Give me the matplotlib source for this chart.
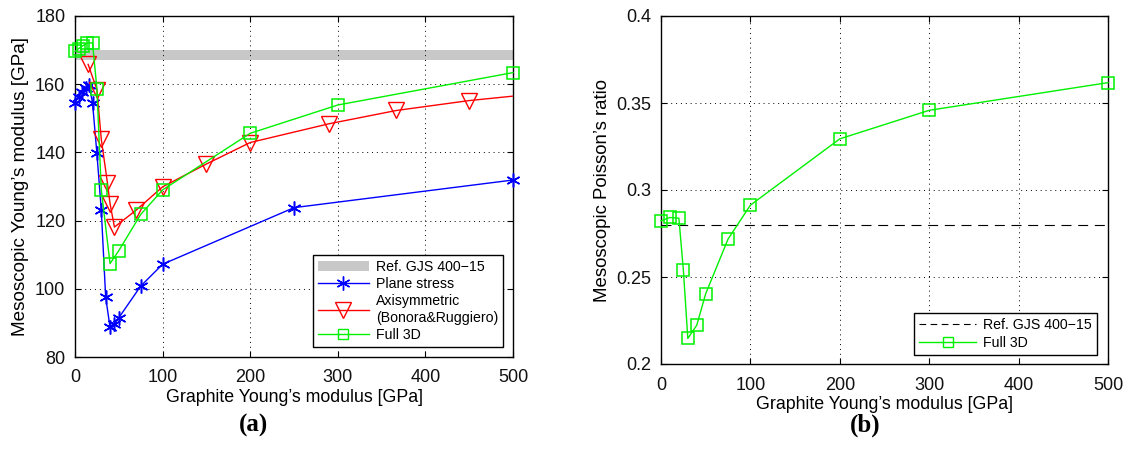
import matplotlib
matplotlib.use("Agg")
import matplotlib.pyplot as plt
from matplotlib.patches import Patch
from matplotlib.lines import Line2D

# (a) mesoscopic Young's modulus [GPa] vs graphite Young's modulus [GPa]
ref_E_band = (167.0, 170.0)

ps_x = [0, 4, 8, 12, 16, 20, 25, 30, 35, 40, 45, 50, 75, 100, 250, 500]
ps_y = [154.6, 156.2, 157.6, 159.0, 159.8, 154.6, 139.7, 123.1, 97.6, 88.7, 89.8, 91.5, 100.8, 107.2, 123.8, 131.9]

axi_x = [15, 25, 30, 37, 40, 45, 70, 100, 150, 200, 290, 367, 450, 500]
axi_y = [165.8, 158.4, 143.9, 131.1, 125.0, 118.1, 123.1, 129.9, 136.6, 142.9, 148.4, 152.3, 155.2, 156.5]

f3d_x = [0, 4, 9, 14, 20, 25, 30, 40, 50, 75, 100, 200, 300, 500]
f3d_y = [169.6, 170.4, 171.3, 172.1, 172.1, 158.7, 129.0, 107.4, 111.2, 121.8, 129.0, 145.6, 153.9, 163.4]

# (b) mesoscopic Poisson's ratio
ref_nu = 0.28
nu_x = [0, 10, 20, 25, 30, 40, 50, 75, 100, 200, 300, 500]
nu_y = [0.2823, 0.2842, 0.2838, 0.2541, 0.2147, 0.2223, 0.2404, 0.2718, 0.2913, 0.3294, 0.3458, 0.3617]

plt.rcParams["font.family"] = "Liberation Sans"
plt.rcParams["axes.linewidth"] = 1.0

BLUE, RED, GREEN = "#0000ff", "#ff0000", "#00f000"
STAR = (6, 2, 0)  # matlab-like asterisk

fig = plt.figure(figsize=(11.27, 4.66), dpi=100)
W, H = 1127, 466
axA = fig.add_axes([75 / W, 1 - 357 / H, 438 / W, 341 / H])
axB = fig.add_axes([661 / W, 1 - 364 / H, 447 / W, 348 / H])


def style(ax):
    ax.grid(True, ls=(0, (1, 4)), color="black", lw=0.7)
    ax.tick_params(direction="in", length=4, labelsize=13, pad=7, top=True, right=True)
    ax.tick_params(axis="x", pad=9)
    for lab in ax.get_xticklabels() + ax.get_yticklabels():
        lab.set_color("#111111")


# ---- (a)
axA.axhspan(ref_E_band[0], ref_E_band[1], color="#c8c8c8", lw=0, zorder=1)
axA.plot(ps_x, ps_y, color=BLUE, lw=1.0, marker=STAR, ms=10, mew=1.1, zorder=3, clip_on=False)
axA.plot(axi_x[:-1], axi_y[:-1], ls="none", color=RED, marker="v", ms=11, mfc="none", mew=1.0, zorder=3)
axA.plot(axi_x, axi_y, color=RED, lw=1.0, zorder=3)
axA.plot(f3d_x, f3d_y, color=GREEN, lw=1.0, marker="s", ms=8.5, mfc="none", mew=1.1, zorder=4, clip_on=False)
axA.set_xlim(0, 500)
axA.set_ylim(80, 180)
axA.set_xticks(range(0, 501, 100))
axA.set_yticks(range(80, 181, 20))
axA.set_xlabel("Graphite Young\u2019s modulus [GPa]", fontsize=12.8, labelpad=2)
axA.set_ylabel("Mesoscopic Young\u2019s modulus [GPa]", fontsize=13.6, labelpad=4)
style(axA)
hA = [Patch(facecolor="#c8c8c8", edgecolor="none"),
      Line2D([], [], color=BLUE, lw=1.0, marker=STAR, ms=10),
      Line2D([], [], color=RED, lw=1.0, marker="v", ms=11, mfc="none"),
      Line2D([], [], color=GREEN, lw=1.0, marker="s", ms=7, mfc="none")]
legA = axA.legend(hA, ["Ref. GJS 400\u221215", "Plane stress",
                       "Axisymmetric\n(Bonora&Ruggiero)", "Full 3D"],
                  loc="lower right", bbox_to_anchor=(0.977, 0.03), borderaxespad=0,
                  fontsize=10.2, frameon=True, fancybox=False, framealpha=1,
                  edgecolor="black", handlelength=3.6, handletextpad=0.5,
                  borderpad=0.35, labelspacing=0.22)
legA.get_frame().set_linewidth(1.0)

# ---- (b)
axB.axhline(ref_nu, color="black", lw=0.8, dashes=(9, 6), zorder=2)
axB.plot(nu_x, nu_y, color=GREEN, lw=1.0, marker="s", ms=8.5, mfc="none", mew=1.1, zorder=3, clip_on=False)
axB.set_xlim(0, 500)
axB.set_ylim(0.2, 0.4)
axB.set_xticks(range(0, 501, 100))
axB.set_yticks([0.2, 0.25, 0.3, 0.35, 0.4])
axB.set_yticklabels(["0.2", "0.25", "0.3", "0.35", "0.4"])
axB.set_xlabel("Graphite Young\u2019s modulus [GPa]", fontsize=12.8, labelpad=2)
axB.set_ylabel("Mesoscopic Poisson\u2019s ratio", fontsize=13.4, labelpad=4)
style(axB)
hB = [Line2D([], [], color="black", lw=0.8, dashes=(6, 4)),
      Line2D([], [], color=GREEN, lw=1.0, marker="s", ms=7, mfc="none")]
legB = axB.legend(hB, ["Ref. GJS 400\u221215", "Full 3D"], loc="lower right",
                  bbox_to_anchor=(0.975, 0.026), borderaxespad=0, fontsize=10.2,
                  frameon=True, fancybox=False, framealpha=1, edgecolor="black",
                  handlelength=4.0, handletextpad=0.5, borderpad=0.35, labelspacing=0.3)
legB.get_frame().set_linewidth(1.0)

fig.text(253 / W, 1 - 425 / H, "(a)", fontsize=18, fontweight="bold",
         family="Liberation Serif", ha="center", va="center")
fig.text(865 / W, 1 - 425 / H, "(b)", fontsize=18, fontweight="bold",
         family="Liberation Serif", ha="center", va="center")

fig.savefig("out.png", dpi=100)
